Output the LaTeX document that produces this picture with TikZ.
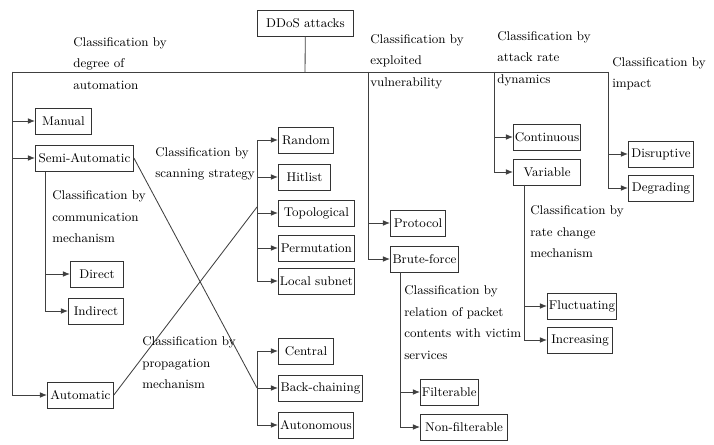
\documentclass[tikz,border=0pt]{standalone}
\usetikzlibrary{arrows.meta}

\tikzset{
    box/.style={draw=black!80, line width=0.6pt, anchor=west, inner xsep=1pt, inner ysep=0pt, minimum height=0.65cm, font=\fontsize{9}{12}\selectfont},
    lbl/.style={anchor=north west, align=left, inner sep=0pt, font=\fontsize{9}{15.5}\selectfont},
    link/.style={black!75, line width=0.6pt}
}

\begin{document}
\begin{tikzpicture}[x=0.025cm, y=-0.025cm, >={Latex[length=5pt, width=4pt]}]
    \useasboundingbox (0,0) rectangle (714,445);

    % Root and bus line
    \node[box, minimum width=2.4cm] (top) at (257,23) {DDoS attacks};
    \coordinate (bus) at (305,72);
    \coordinate (autoTop) at (12,72);
    \coordinate (vulnTop) at (368,72);
    \coordinate (dynTop) at (494,72);
    \coordinate (impTop) at (608,72);
    \draw[link] (top) -- (bus);
    \draw[link] (autoTop) -- (impTop);

    % Degree of automation
    \node[lbl] (autoLbl) at (73,37) {Classification by\\degree of\\automation};
    \node[box, minimum width=1.4cm] (manual) at (35,121) {Manual};
    \node[box, minimum width=2.45cm] (semi) at (35,158) {Semi-Automatic};
    \node[box, minimum width=1.65cm] (auto) at (47,395) {Automatic};
    \foreach \n in {manual, semi, auto} {
        \draw[link, ->] (autoTop) |- (\n);
    }

    % Communication mechanism
    \node[lbl] (commLbl) at (52,190) {Classification by\\communication\\mechanism};
    \coordinate (commTop) at (45,172);
    \node[box, minimum width=1.33cm] (direct) at (70,274) {Direct};
    \node[box, minimum width=1.38cm] (indirect) at (68,311) {Indirect};
    \foreach \n in {direct, indirect} {
        \draw[link, ->] (commTop) |- (\n);
    }

    % Scanning strategy
    \node[lbl] (scanLbl) at (155,147) {Classification by\\scanning strategy};
    \coordinate (scanIn) at (257,207);
    \node[box, minimum width=1.38cm] (random) at (278,140) {Random};
    \node[box, minimum width=1.3cm] (hitlist) at (278,177) {Hitlist};
    \node[box, minimum width=1.9cm] (topo) at (278,213) {Topological};
    \node[box, minimum width=1.9cm] (perm) at (278,248) {Permutation};
    \node[box, minimum width=1.9cm] (local) at (278,281) {Local subnet};
    \draw[link] (auto.east) -- (scanIn);
    \foreach \n in {random, hitlist, topo, perm, local} {
        \draw[link, ->] (scanIn) |- (\n);
    }

    % Propagation mechanism
    \node[lbl] (propLbl) at (142,336) {Classification by\\propagation\\mechanism};
    \coordinate (propIn) at (257,388);
    \node[box, minimum width=1.38cm] (central) at (278,351) {Central};
    \node[box, minimum width=2.1cm] (backch) at (278,388) {Back-chaining};
    \node[box, minimum width=1.88cm] (autonom) at (278,425) {Autonomous};
    \draw[link] (semi.east) -- (propIn);
    \foreach \n in {central, backch, autonom} {
        \draw[link, ->] (propIn) |- (\n);
    }

    % Exploited vulnerability
    \node[lbl] (vulnLbl) at (370,34) {Classification by\\exploited\\vulnerability};
    \node[box, minimum width=1.38cm] (protocol) at (390,223) {Protocol};
    \node[box, minimum width=1.7cm] (brute) at (390,259) {Brute-force};
    \foreach \n in {protocol, brute} {
        \draw[link, ->] (vulnTop) |- (\n);
    }

    % Relation of packet contents
    \node[lbl] (relLbl) at (404,285) {Classification by\\relation of packet\\contents with victim\\services};
    \coordinate (relTop) at (400,272);
    \node[box, minimum width=1.43cm] (filt) at (420,392) {Filterable};
    \node[box, minimum width=2.18cm] (nonfilt) at (420,427) {Non-filterable};
    \foreach \n in {filt, nonfilt} {
        \draw[link, ->] (relTop) |- (\n);
    }

    % Attack rate dynamics
    \node[lbl] (dynLbl) at (497,31) {Classification by\\attack rate\\dynamics};
    \node[box, minimum width=1.68cm] (cont) at (513,137) {Continuous};
    \node[box, minimum width=1.68cm] (variable) at (513,172) {Variable};
    \foreach \n in {cont, variable} {
        \draw[link, ->] (dynTop) |- (\n);
    }

    % Rate change mechanism
    \node[lbl] (rateLbl) at (530,205) {Classification by\\rate change\\mechanism};
    \coordinate (rateTop) at (524,185);
    \node[box, minimum width=1.63cm] (fluct) at (547,306) {Fluctuating};
    \node[box, minimum width=1.63cm] (incr) at (547,340) {Increasing};
    \foreach \n in {fluct, incr} {
        \draw[link, ->] (rateTop) |- (\n);
    }

    % Impact
    \node[lbl] (impLbl) at (612,57) {Classification by\\impact};
    \node[box, minimum width=1.63cm] (disrupt) at (628,154) {Disruptive};
    \node[box, minimum width=1.63cm] (degrad) at (628,188) {Degrading};
    \foreach \n in {disrupt, degrad} {
        \draw[link, ->] (impTop) |- (\n);
    }
\end{tikzpicture}
\end{document}
